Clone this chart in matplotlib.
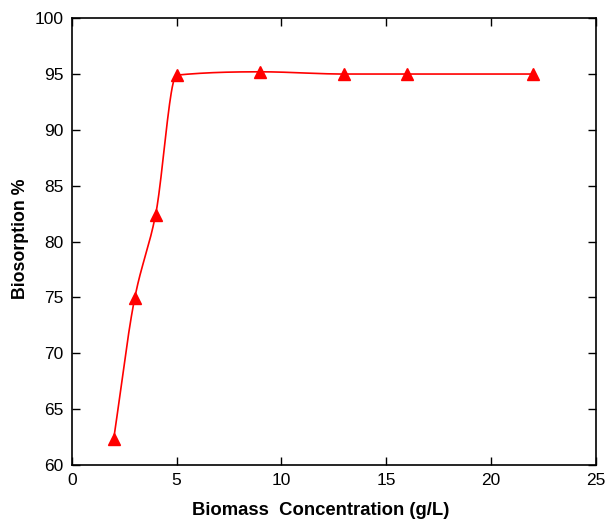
import numpy as np
import matplotlib.pyplot as plt

plt.rcParams['font.family'] = ['Liberation Sans', 'DejaVu Sans']

# data
biomass = [2, 3, 4, 5, 9, 13, 16, 22]
biosorption = [62.3, 74.9, 82.4, 94.9, 95.2, 95.0, 95.0, 95.0]


def monotone_curve(x, y, n=40):
    # Fritsch-Carlson monotone cubic, only for drawing a smooth line
    x = np.asarray(x, float)
    y = np.asarray(y, float)
    h = np.diff(x)
    d = np.diff(y) / h
    m = np.zeros_like(y)
    m[0], m[-1] = d[0], d[-1]
    for i in range(1, len(x) - 1):
        if d[i - 1] * d[i] > 0:
            w1 = 2 * h[i] + h[i - 1]
            w2 = h[i] + 2 * h[i - 1]
            m[i] = (w1 + w2) / (w1 / d[i - 1] + w2 / d[i])
    xs, ys = [], []
    t = np.linspace(0, 1, n)
    for i in range(len(x) - 1):
        h00 = 2 * t**3 - 3 * t**2 + 1
        h10 = t**3 - 2 * t**2 + t
        h01 = -2 * t**3 + 3 * t**2
        h11 = t**3 - t**2
        xs.extend(x[i] + t * h[i])
        ys.extend(h00 * y[i] + h10 * h[i] * m[i] + h01 * y[i + 1] + h11 * h[i] * m[i + 1])
    return np.array(xs), np.array(ys)


fig = plt.figure(figsize=(6.08, 5.2), dpi=100)
ax = fig.add_axes([0.118, 0.106, 0.862, 0.859])

sx, sy = monotone_curve(biomass, biosorption)
ax.plot(sx, sy, color='red', lw=1.2)
ax.plot(biomass, biosorption, ls='none', marker='^', color='red', ms=9)

ax.set_xlim(0, 25)
ax.set_ylim(60, 100)
ax.set_xticks(range(0, 26, 5))
ax.set_yticks(range(60, 101, 5))
ax.tick_params(direction='in', top=True, right=True, length=6, width=1,
               labelsize=12.5, pad=6)
for s in ax.spines.values():
    s.set_linewidth(1.2)

ax.set_xlabel('Biomass  Concentration (g/L)', fontsize=13.3, fontweight='bold')
ax.xaxis.set_label_coords(0.475, -0.083)
ax.set_ylabel('Biosorption %', fontsize=12.8, fontweight='bold')
ax.yaxis.set_label_coords(-0.082, 0.506)

fig.savefig('out.png', dpi=100)
